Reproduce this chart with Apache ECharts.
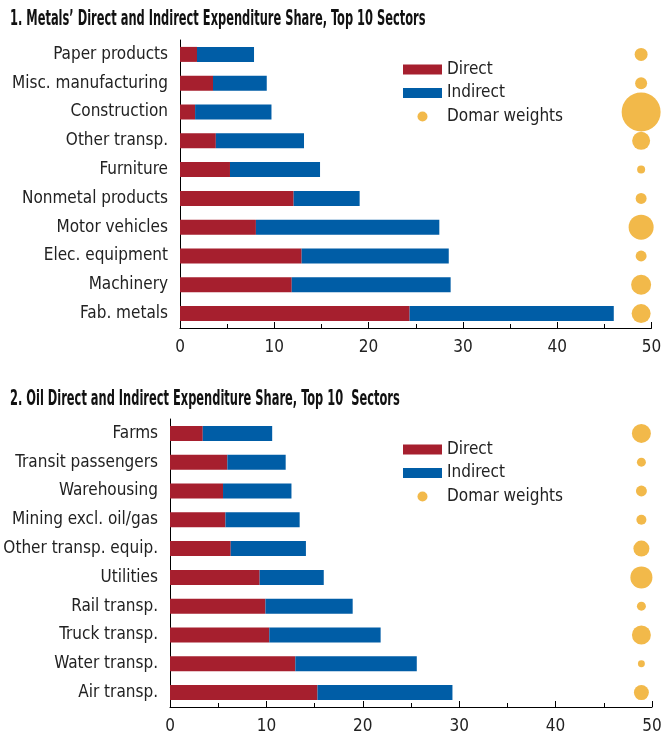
<!DOCTYPE html>
<html>
<head>
<meta charset="utf-8">
<script src="https://cdn.jsdelivr.net/npm/echarts@6/dist/echarts.min.js"></script>
<style>
html,body{margin:0;padding:0;background:#fff;}
#chart{width:663px;height:733px;}
</style>
</head>
<body>
<div id="chart"></div>
<script>
// ---- Panel 1: Metals ----
const metalsCategories = ["Paper products","Misc. manufacturing","Construction","Other transp.","Furniture","Nonmetal products","Motor vehicles","Elec. equipment","Machinery","Fab. metals"];
const metalsDirect   = [1.8, 3.5, 1.6, 3.8, 5.3, 12.05, 8.05, 12.9, 11.85, 24.35];
const metalsIndirect = [6.05, 5.7, 8.1, 9.35, 9.55, 7.0, 19.45, 15.6, 16.85, 21.65];
const metalsDomar    = [0.42, 0.36, 3.8, 0.81, 0.16, 0.30, 1.56, 0.30, 1.0, 0.90];

// ---- Panel 2: Oil ----
const oilCategories = ["Farms","Transit passengers","Warehousing","Mining excl. oil/gas","Other transp. equip.","Utilities","Rail transp.","Truck transp.","Water transp.","Air transp."];
const oilDirect   = [3.4, 5.95, 5.5, 5.75, 6.3, 9.3, 9.9, 10.3, 13.0, 15.3];
const oilIndirect = [7.2, 6.05, 7.1, 7.7, 7.8, 6.65, 9.05, 11.55, 12.6, 14.0];
const oilDomar    = [0.90, 0.20, 0.30, 0.25, 0.64, 1.21, 0.20, 0.90, 0.12, 0.56];

const xTicks = [0, 10, 20, 30, 40, 50];
const titles = ["1. Metals\u2019 Direct and Indirect Expenditure Share, Top 10 Sectors", "2. Oil Direct and Indirect Expenditure Share, Top 10  Sectors"];

const domarColumn = 48.9; // x position of the Domar-weight bubble column
const RED = '#A61F2E', BLUE = '#005DA6', GOLD = '#F2B94A';
const FONT = '"DejaVu Sans Condensed", "Liberation Sans Narrow", sans-serif';

const chart = echarts.init(document.getElementById('chart'), null, {renderer: 'canvas'});

function xAxisDef(idx) {
  return {
    type: 'value', gridIndex: idx, min: xTicks[0], max: xTicks[xTicks.length-1], interval: 10,
    axisLine: {show: true, lineStyle: {color: '#000', width: 1}},
    axisTick: {show: true, inside: true, length: 6, lineStyle: {color: '#000'}},
    minorTick: {show: true, splitNumber: 2, length: 4, lineStyle: {color: '#000'}},
    splitLine: {show: false},
    axisLabel: {color: '#222', fontFamily: FONT, fontSize: 17, margin: 11}
  };
}
function yAxisDef(idx, cats) {
  return {
    type: 'category', gridIndex: idx, data: cats, inverse: true,
    axisLine: {show: true, lineStyle: {color: '#000', width: 1}},
    axisTick: {show: false},
    axisLabel: {color: '#222', fontFamily: FONT, fontSize: 17, margin: 12}
  };
}
const sz = w => 20 * Math.sqrt(w);

function panelSeries(idx, direct, indirect, domar) {
  return [
    {name: 'Direct', type: 'bar', stack: 's' + idx, xAxisIndex: idx, yAxisIndex: idx,
     barWidth: 15, itemStyle: {color: RED}, data: direct, silent: true},
    {name: 'Indirect', type: 'bar', stack: 's' + idx, xAxisIndex: idx, yAxisIndex: idx,
     barWidth: 15, itemStyle: {color: BLUE}, data: indirect, silent: true},
    {name: 'Domar weights', type: 'scatter', xAxisIndex: idx, yAxisIndex: idx,
     symbol: 'circle', itemStyle: {color: GOLD, opacity: 1},
     data: domar.map((w, i) => ({value: [domarColumn, i], symbolSize: sz(w)})), silent: true}
  ];
}

const legendBase = {
  orient: 'vertical', left: 398, itemWidth: 39, itemHeight: 10, itemGap: 6.5,
  textStyle: {fontFamily: FONT, fontSize: 17, color: '#222'},
  data: [{name: 'Direct', icon: 'rect'}, {name: 'Indirect', icon: 'rect'}, {name: 'Domar weights', icon: 'circle'}],
  selectedMode: false
};

function titleText(text, y) {
  return {
    type: 'text', x: 10, y: y, scaleX: 0.62, silent: true,
    style: {text: text, fill: '#111', font: 'bold 20.5px "DejaVu Sans Condensed", sans-serif', verticalAlign: 'middle', align: 'left'}
  };
}

chart.setOption({
  animation: false,
  graphic: [titleText(titles[0], 20), titleText(titles[1], 400)],
  legend: [
    Object.assign({}, legendBase, {top: 56}),
    Object.assign({}, legendBase, {top: 436})
  ],
  grid: [
    {left: 180, top: 40, width: 471.5, height: 288, outerBoundsMode: 'none'},
    {left: 170, top: 419, width: 482, height: 288, outerBoundsMode: 'none'}
  ],
  xAxis: [xAxisDef(0), xAxisDef(1)],
  yAxis: [yAxisDef(0, metalsCategories), yAxisDef(1, oilCategories)],
  series: [].concat(
    panelSeries(0, metalsDirect, metalsIndirect, metalsDomar),
    panelSeries(1, oilDirect, oilIndirect, oilDomar)
  )
});
</script>
</body>
</html>
